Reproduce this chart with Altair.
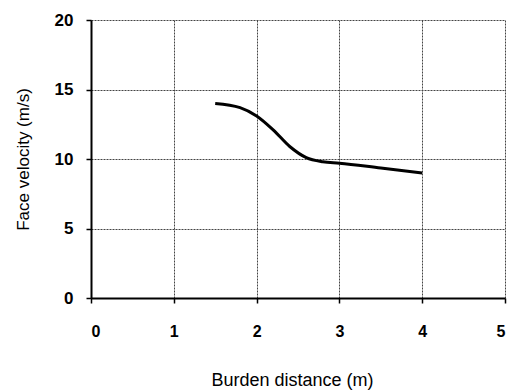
import altair as alt
import pandas as pd

burden = [1.5, 1.8, 2.0, 2.2, 2.4, 2.6, 2.8, 3.0, 3.5, 4.0]
velocity = [14.0, 13.7, 13.1, 12.1, 10.9, 10.1, 9.8, 9.7, 9.35, 9.0]

df = pd.DataFrame({"Burden distance (m)": burden, "Face velocity (m/s)": velocity})

chart = alt.Chart(df).mark_line(
    color="black", strokeWidth=3, interpolate="monotone"
).encode(
    x=alt.X("Burden distance (m):Q",
            scale=alt.Scale(domain=[0, 5], nice=False),
            axis=alt.Axis(values=[0, 1, 2, 3, 4, 5], format="d",
                          labelFontSize=16, labelPadding=20, titlePadding=32,
                          titleFontSize=18, titleX=201)),
    y=alt.Y("Face velocity (m/s):Q",
            scale=alt.Scale(domain=[0, 20], nice=False),
            axis=alt.Axis(values=[0, 5, 10, 15, 20], format="d",
                          labelFontSize=17, labelPadding=13, titlePadding=22,
                          titleFontSize=17)),
).properties(
    width=414, height=278,
    autosize=alt.AutoSizeParams(type="none"),
    padding={"left": 91, "top": 20, "right": 6, "bottom": 92},
).configure_view(
    stroke=None
).configure_axis(
    domainColor="black", domainWidth=2,
    tickColor="black", tickSize=5, tickWidth=1.5,
    gridColor="#444444", gridWidth=1, gridDash=[2, 1],
    labelFont="Liberation Sans", labelFontWeight="bold",
    labelColor="black",
    titleFont="Liberation Sans", titleFontWeight="normal",
    titleColor="black",
)

chart.save("out.html", embed_options={"renderer": "svg", "actions": False})
